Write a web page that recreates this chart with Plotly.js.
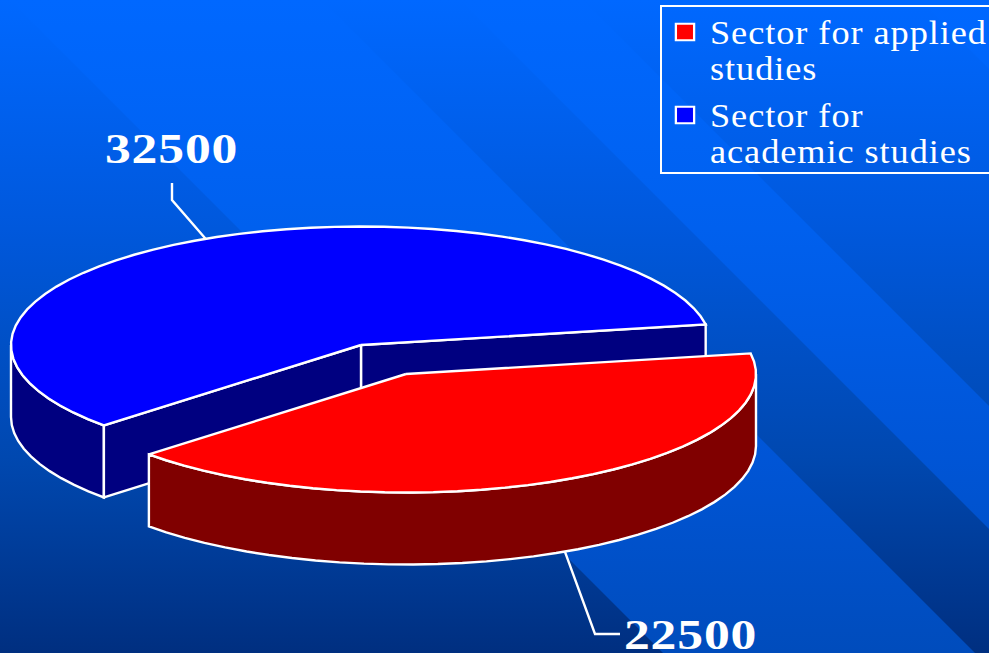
<!DOCTYPE html>
<html>
<head>
<meta charset="utf-8">
<script src="https://cdn.plot.ly/plotly-3.0.1.min.js"></script>
<style>
html,body{margin:0;padding:0;background:#0050cc;overflow:hidden}
#chart{width:989px;height:653px}
.legendtext{letter-spacing:0.86px;transform-box:fill-box;transform-origin:left center;transform:scaleX(1.1)}
.annotation-text{letter-spacing:0.7px;transform-box:fill-box;transform-origin:center;transform:scaleX(1.2)}
</style>
</head>
<body>
<div id="chart"></div>
<script>
// ---- data ----
const categories = ['Sector for applied<br>studies', 'Sector for<br>academic studies'];
const values = [22500, 32500];
const sliceColors = ['#ff0000', '#0000ff'];
const wallColors = ['#800000', '#000080'];
const total = values[0] + values[1];

// ---- pseudo-3D projection of the pie ----
const RX = 350, RY = 118.5, DEPTH = 72;
const pieCentre = [361, 345];
const explode = [45, 29];
const startDeg = -10;
const sweep = values.map(v => v / total * 360);
const redRange = [startDeg, startDeg + sweep[0]];
const blueRange = [redRange[1], redRange[1] + sweep[1]];
const redCentre = [pieCentre[0] + explode[0], pieCentre[1] + explode[1]];

function pt(c, deg, dz) {
  const r = deg * Math.PI / 180;
  return [c[0] + RX * Math.cos(r), c[1] + RY * Math.sin(r) + (dz || 0)];
}
function arc(c, a, b, dz) {
  const out = [], n = Math.max(2, Math.round(Math.abs(b - a) / 4));
  for (let i = 0; i <= n; i++) out.push(pt(c, a + (b - a) * i / n, dz));
  return out;
}
function poly(points, fill) {
  return {
    type: 'scatter', mode: 'lines', fill: 'toself', fillcolor: fill,
    x: points.map(p => p[0]), y: points.map(p => p[1]),
    line: {color: '#ffffff', width: 2.4, simplify: false},
    hoverinfo: 'skip', showlegend: false
  };
}
function outerWall(c, a, b, color) {
  return poly(arc(c, a, b, 0).concat(arc(c, b, a, DEPTH)).concat([pt(c, a, 0)]), color);
}
function cutWall(c, deg, color) {
  const p = pt(c, deg, 0), q = pt(c, deg, DEPTH);
  return poly([c, p, q, [c[0], c[1] + DEPTH], c], color);
}
function topFace(c, a, b, color) {
  return poly([c].concat(arc(c, a, b, 0)).concat([c]), color);
}
function leader(points) {
  return {
    type: 'scatter', mode: 'lines', x: points.map(p => p[0]), y: points.map(p => p[1]),
    line: {color: '#ffffff', width: 2.4}, hoverinfo: 'skip', showlegend: false
  };
}
function legendEntry(i) {
  return {
    type: 'scatter', mode: 'markers', x: [null], y: [null], name: categories[i],
    marker: {symbol: 'square', size: 16, color: sliceColors[i], line: {color: '#ffffff', width: 2}},
    hoverinfo: 'skip', showlegend: true
  };
}

const blueMid = (blueRange[0] + blueRange[1]) / 2;
const blueAnchor = pt(pieCentre, blueMid, 0);
const redAnchor = pt(redCentre, 63, DEPTH);

const traces = [
  outerWall(pieCentre, blueRange[0], 180, wallColors[1]),
  cutWall(pieCentre, blueRange[1], wallColors[1]),
  cutWall(pieCentre, blueRange[0], wallColors[1]),
  topFace(pieCentre, blueRange[0], blueRange[1], sliceColors[1]),
  outerWall(redCentre, 0, redRange[1], wallColors[0]),
  topFace(redCentre, redRange[0], redRange[1], sliceColors[0]),
  leader([blueAnchor, [172, 200], [172, 183]]),
  leader([redAnchor, [595, 634], [620, 634]]),
  legendEntry(0),
  legendEntry(1)
];

// ---- background: vertical gradient with diagonal bands ----
const lightBands = [[-322, -10], [-583, -460], [-1200, -920]];
function background() {
  const cv = document.createElement('canvas');
  cv.width = 989; cv.height = 653;
  const g = cv.getContext('2d');
  const dark = g.createLinearGradient(0, 0, 0, 653);
  dark.addColorStop(0, '#0068ff'); dark.addColorStop(0.35, '#0058dc');
  dark.addColorStop(0.7, '#0048b0'); dark.addColorStop(1, '#002f80');
  g.fillStyle = dark; g.fillRect(0, 0, 989, 653);
  const light = g.createLinearGradient(0, 0, 0, 653);
  light.addColorStop(0, '#0068ff'); light.addColorStop(0.35, '#0060ee');
  light.addColorStop(0.7, '#0055d6'); light.addColorStop(1, '#004cbc');
  g.fillStyle = light;
  lightBands.forEach(b => {
    g.beginPath();
    g.moveTo(-b[1], 0); g.lineTo(-b[0], 0);
    g.lineTo(653 - b[0], 653); g.lineTo(653 - b[1], 653);
    g.closePath(); g.fill();
  });
  return cv.toDataURL('image/png');
}

const layout = {
  width: 989, height: 653,
  margin: {l: 0, r: 0, t: 0, b: 0, pad: 0, autoexpand: false},
  paper_bgcolor: 'rgba(0,0,0,0)', plot_bgcolor: 'rgba(0,0,0,0)',
  xaxis: {range: [0, 989], visible: false, fixedrange: true},
  yaxis: {range: [653, 0], visible: false, fixedrange: true},
  font: {family: '"Liberation Serif", serif', color: '#ffffff'},
  images: [{source: background(), xref: 'paper', yref: 'paper', x: 0, y: 1,
            sizex: 1, sizey: 1, sizing: 'stretch', xanchor: 'left', yanchor: 'top', layer: 'below'}],
  legend: {
    x: 660 / 989, y: 1 - 5 / 653, xanchor: 'left', yanchor: 'top',
    bgcolor: 'rgba(0,0,0,0)', bordercolor: '#ffffff', borderwidth: 2,
    font: {family: '"Liberation Serif", serif', size: 33, color: '#ffffff'},
    itemsizing: 'trace', indentation: 5, itemclick: false, itemdoubleclick: false
  },
  annotations: [
    {text: '<b>' + values[1] + '</b>', x: 171, y: 148, xref: 'x', yref: 'y', showarrow: false,
     font: {family: '"Liberation Serif", serif', size: 43, color: '#ffffff'}},
    {text: '<b>' + values[0] + '</b>', x: 690, y: 634, xref: 'x', yref: 'y', showarrow: false,
     font: {family: '"Liberation Serif", serif', size: 43, color: '#ffffff'}}
  ],
  showlegend: true, hovermode: false
};

// Plotly fixes the legend's line pitch at 1.3em; the reference is tighter and its box runs off the page.
function fitLegend() {
  const baselines = [39, 122];
  document.querySelectorAll('.legend .traces').forEach((g, i) => {
    g.setAttribute('transform', 'translate(0,' + baselines[i] + ')');
    const t = g.querySelector('.legendtext');
    t.setAttribute('x', 50); t.setAttribute('y', 0);
    t.querySelectorAll('tspan.line').forEach(s => {
      s.setAttribute('x', 50); s.setAttribute('y', 0);
      const dy = parseFloat(s.getAttribute('dy'));
      if (dy > 0) s.setAttribute('dy', '1.09em');
    });
    g.querySelector('.layers').setAttribute('transform', 'translate(5,-12)');
    const swatch = g.querySelector('.legendpoints path');
    if (swatch) swatch.setAttribute('transform', (swatch.getAttribute('transform') || '') + ' scale(1.14,1.03)');
  });
  const bg = document.querySelector('.legend .bg');
  bg.setAttribute('height', 167); bg.setAttribute('width', 345);
  document.querySelectorAll('clipPath[id^="legend"] rect').forEach(r => {
    r.setAttribute('height', 167); r.setAttribute('width', 345);
  });
}

Plotly.newPlot('chart', traces, layout, {displayModeBar: false, staticPlot: true}).then(fitLegend);
</script>
</body>
</html>
